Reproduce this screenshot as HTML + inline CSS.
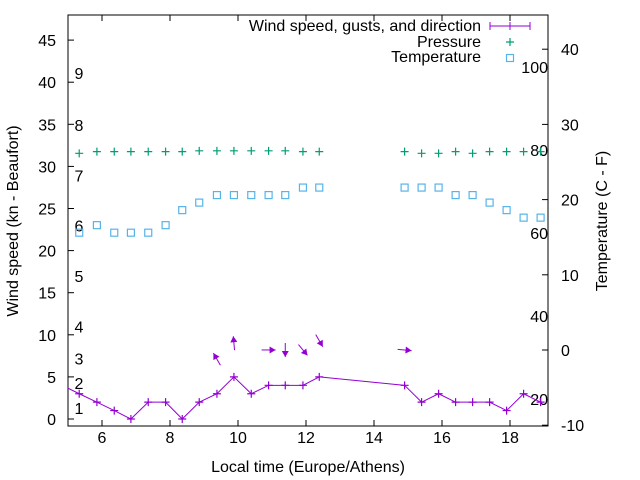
<!DOCTYPE html>
<html><head><meta charset="utf-8"><style>
html,body{margin:0;padding:0;background:#fff}
svg{display:block;font-family:"Liberation Sans",sans-serif}
</style></head><body>
<svg id="chart" width="640" height="480" viewBox="0 0 640 480">
<g id="axes"></g><g id="series"></g><g id="legend"></g>
</svg>
<script>
const times1=[5.33,5.85,6.36,6.85,7.36,7.87,8.36,8.86,9.38,9.88,10.39,10.9,11.39,11.91,12.39];
const times2=[14.9,15.4,15.9,16.4,16.9,17.4,17.9,18.4,18.9];
const wind1=[3,2,1,0,2,2,0,2,3,5,3,4,4,4,5];
const wind2=[4,2,3,2,2,2,1,3,2];
const pressure1=[79.2,79.6,79.6,79.6,79.6,79.6,79.6,79.8,79.8,79.8,79.8,79.8,79.8,79.6,79.6];
const pressure2=[79.6,79.2,79.2,79.6,79.2,79.6,79.6,79.6,79.6];
const temp1=[15.6,16.6,15.6,15.6,15.6,16.6,18.6,19.6,20.6,20.6,20.6,20.6,20.6,21.6,21.6];
const temp2=[21.6,21.6,21.6,20.6,20.6,19.6,18.6,17.6,17.6];
const arrowTimes=[9.38,9.88,10.9,11.39,11.91,12.39,14.9];
const arrowGusts=[7.1,9,8.2,8.2,8.2,9.3,8.2];
const arrowAngles=[-120,-95,0,90,50,60,5];
const xTicks=[6,8,10,12,14,16,18];
const yTicks=[0,5,10,15,20,25,30,35,40,45];
const y2Ticks=[-10,0,10,20,30,40];
const beaufortLabels=["1","2","3","4","5","6","7","8","9"];
const beaufortKn=[1.3,4.3,7.2,11,17,23,28.9,34.9,41.1];
const pressLabels=[20,40,60,80,100];

const NS="http://www.w3.org/2000/svg";
const L=68,R=548,T=15,B=426,FS=16;
const X=t=>L+(t-5)*34;
const Y=v=>419-v*8.42;
const Y2=v=>350-v*7.52;
const YP=v=>150-(v-80)*4.15;
function el(tag,attrs,parent,text){const e=document.createElementNS(NS,tag);for(const k in attrs)e.setAttribute(k,attrs[k]);if(text!==undefined)e.textContent=text;parent.appendChild(e);return e;}
const ax=document.getElementById('axes'),se=document.getElementById('series'),lg=document.getElementById('legend');

let f=el('rect',{x:L,y:T,width:R-L,height:B-T,fill:'none',stroke:'#000','stroke-width':1},ax);


xTicks.forEach(t=>{
 let g=el('g',{},ax);
 
 
 el('line',{x1:X(t),x2:X(t),y1:B,y2:B-6,stroke:'#000'},g);
 el('line',{x1:X(t),x2:X(t),y1:T,y2:T+6,stroke:'#000'},g);
 el('text',{x:X(t),y:443,'text-anchor':'middle','font-size':FS,fill:'#000'},g,t);
});
yTicks.forEach(v=>{
 let g=el('g',{},ax);
 
 
 el('line',{x1:L,x2:L+6,y1:Y(v),y2:Y(v),stroke:'#000'},g);
 el('text',{x:56,y:Y(v)+6,'text-anchor':'end','font-size':FS,fill:'#000'},g,v);
});
y2Ticks.forEach(v=>{
 let g=el('g',{},ax);
 
 
 el('line',{x1:R,x2:R-6,y1:Y2(v),y2:Y2(v),stroke:'#000'},g);
 el('text',{x:561,y:Y2(v)+6,'text-anchor':'start','font-size':FS,fill:'#000'},g,v);
});
beaufortLabels.forEach((s,i)=>{
 let t=el('text',{x:79,y:Y(beaufortKn[i])+6,'text-anchor':'middle','font-size':FS,fill:'#000'},ax,s);
 
 
});
pressLabels.forEach(v=>{
 let t=el('text',{x:548,y:YP(v)+6,'text-anchor':'end','font-size':FS,fill:'#000'},ax,v);
 
 
});
let xt=el('text',{x:308,y:472,'text-anchor':'middle','font-size':FS,fill:'#000'},ax,'Local time (Europe/Athens)');


let yt=el('text',{x:0,y:0,transform:'translate(18,221) rotate(-90)','text-anchor':'middle','font-size':FS,fill:'#000'},ax,'Wind speed (kn - Beaufort)');


let y2t=el('text',{x:0,y:0,transform:'translate(607,221) rotate(-90)','text-anchor':'middle','font-size':FS,fill:'#000'},ax,'Temperature (C - F)');



const clip=el('clipPath',{id:'pc'},se);el('rect',{x:L,y:T,width:R-L,height:B-T},clip);
const PUR='#9400d3',GRN='#009e73',BLU='#56b4e9';
function plus(x,y,c,g){el('path',{d:`M${x-4} ${y}h8M${x} ${y-4}v8`,stroke:c,'stroke-width':1.2,fill:'none'},g);}
let pg=el('g',{},se);


times1.forEach((t,i)=>plus(X(t),YP(pressure1[i]),GRN,pg));
times2.forEach((t,i)=>plus(X(t),YP(pressure2[i]),GRN,pg));
let tg=el('g',{},se);


const sq=(t,v)=>el('rect',{x:X(t)-3.5,y:Y2(v)-3.5,width:7,height:7,fill:'none',stroke:BLU,'stroke-width':1.2},tg);
times1.forEach((t,i)=>sq(t,temp1[i]));
times2.forEach((t,i)=>sq(t,temp2[i]));
let wg=el('g',{'clip-path':'url(#pc)'},se);


const allT=[4.83].concat(times1,times2), allW=[4].concat(wind1,wind2);
el('polyline',{points:allT.map((t,i)=>X(t)+','+Y(allW[i])).join(' '),fill:'none',stroke:PUR,'stroke-width':1},wg);
times1.forEach((t,i)=>plus(X(t),Y(wind1[i]),PUR,wg));
times2.forEach((t,i)=>plus(X(t),Y(wind2[i]),PUR,wg));
arrowTimes.forEach((t,i)=>{
 let a=arrowAngles[i]*Math.PI/180,cx=X(t),cy=Y(arrowGusts[i]),len=14;
 let x1=cx-Math.cos(a)*len/2,y1=cy-Math.sin(a)*len/2,x2=cx+Math.cos(a)*len/2,y2=cy+Math.sin(a)*len/2;
 let g=el('g',{},se);
 
 
 el('line',{x1,y1,x2,y2,stroke:PUR,'stroke-width':1},g);
 let h=6,w=3.5,bx=x2-Math.cos(a)*h,by=y2-Math.sin(a)*h;
 el('polygon',{points:`${x2},${y2} ${bx-Math.sin(a)*w},${by+Math.cos(a)*w} ${bx+Math.sin(a)*w},${by-Math.cos(a)*w}`,fill:PUR},g);
});
let l1=el('g',{},lg);


el('text',{x:481,y:31,'text-anchor':'end','font-size':FS,fill:'#000'},l1,'Wind speed, gusts, and direction');
el('path',{d:'M490 26h40M490 22v8M530 22v8M510 22v8',stroke:PUR,fill:'none'},l1);
let l2=el('g',{},lg);


el('text',{x:481,y:47,'text-anchor':'end','font-size':FS,fill:'#000'},l2,'Pressure');
plus(510,42,GRN,l2);
let l3=el('g',{},lg);


el('text',{x:481,y:62,'text-anchor':'end','font-size':FS,fill:'#000'},l3,'Temperature');
el('rect',{x:506.5,y:54.5,width:7,height:7,fill:'none',stroke:BLU,'stroke-width':1.2},l3);
</script>
</body></html>
